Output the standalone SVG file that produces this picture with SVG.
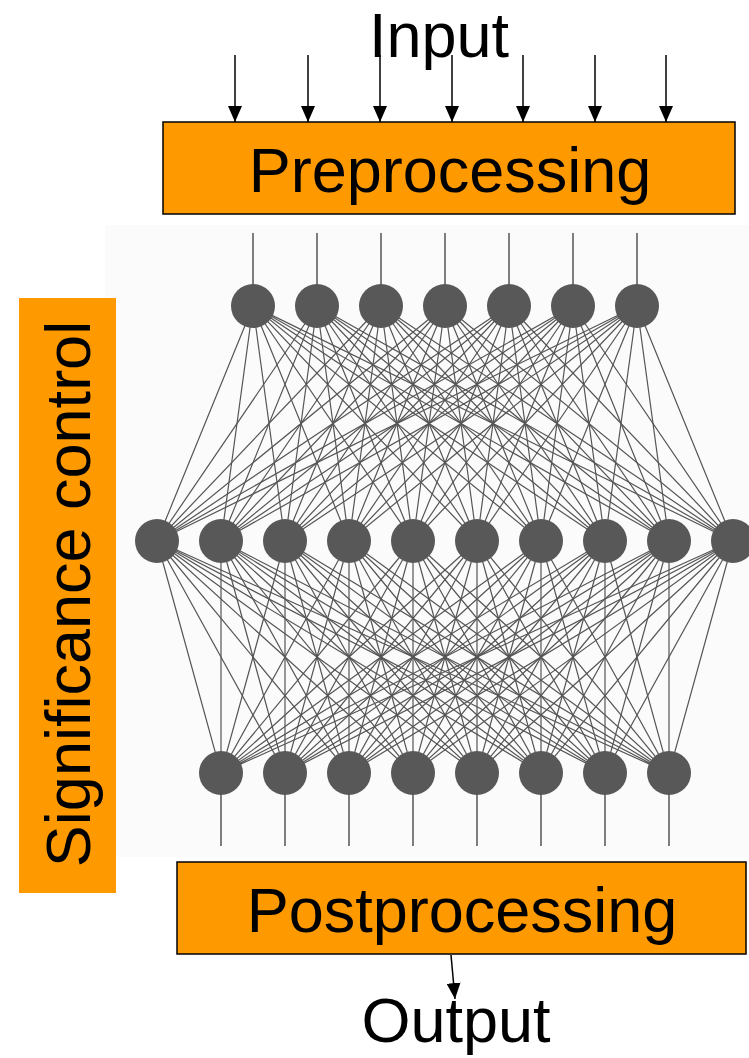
<svg xmlns="http://www.w3.org/2000/svg" width="749" height="1058" viewBox="0 0 749 1058">
  <defs>
    <marker id="arrow" viewBox="0 0 16 14" refX="16" refY="7" markerWidth="16" markerHeight="14" markerUnits="userSpaceOnUse" orient="auto">
      <path d="M0,0 L16,7 L0,14 z" fill="#000"/>
    </marker>
    <style>
      .label { font-family: "Liberation Sans", Arial, sans-serif; font-size: 63px; fill: #000; }
      .box { fill: #ff9900; stroke: #000; stroke-width: 1.5; }
      .side { fill: #ff9900; }
      .flow { stroke: #000; stroke-width: 1.5; fill: none; marker-end: url(#arrow); }
      .wire { stroke: #555; stroke-width: 1.2; fill: none; }
      .stub { stroke: #555; stroke-width: 1.5; fill: none; }
      .neuron { fill: #585858; }
    </style>
  </defs>

  <rect width="749" height="1058" fill="#fff"/>
  <!-- faint panel behind the network -->
  <rect x="105" y="225" width="644" height="632" fill="#fbfbfb"/>

  <!-- input label -->
  <g id="input">
    <text class="label" x="439" y="57" text-anchor="middle">Input</text>
  </g>

  <g id="connectors">
    <!-- input arrows into preprocessing -->
    <line class="flow" x1="235" y1="55" x2="235" y2="122"/>
    <line class="flow" x1="308" y1="55" x2="308" y2="122"/>
    <line class="flow" x1="380" y1="55" x2="380" y2="122"/>
    <line class="flow" x1="452" y1="55" x2="452" y2="122"/>
    <line class="flow" x1="523" y1="55" x2="523" y2="122"/>
    <line class="flow" x1="595" y1="55" x2="595" y2="122"/>
    <line class="flow" x1="666" y1="55" x2="666" y2="122"/>

    <!-- stubs into the first layer -->
    <path class="stub" d="M253,233V300M317,233V300M381,233V300M445,233V300M509,233V300M573,233V300M637,233V300"/>

    <!-- first layer to hidden layer -->
    <path class="wire" d="M253,306L157,541M253,306L221,541M253,306L285,541M253,306L349,541M253,306L413,541M253,306L477,541M253,306L541,541M253,306L605,541M253,306L669,541M253,306L733,541"/>
    <path class="wire" d="M317,306L157,541M317,306L221,541M317,306L285,541M317,306L349,541M317,306L413,541M317,306L477,541M317,306L541,541M317,306L605,541M317,306L669,541M317,306L733,541"/>
    <path class="wire" d="M381,306L157,541M381,306L221,541M381,306L285,541M381,306L349,541M381,306L413,541M381,306L477,541M381,306L541,541M381,306L605,541M381,306L669,541M381,306L733,541"/>
    <path class="wire" d="M445,306L157,541M445,306L221,541M445,306L285,541M445,306L349,541M445,306L413,541M445,306L477,541M445,306L541,541M445,306L605,541M445,306L669,541M445,306L733,541"/>
    <path class="wire" d="M509,306L157,541M509,306L221,541M509,306L285,541M509,306L349,541M509,306L413,541M509,306L477,541M509,306L541,541M509,306L605,541M509,306L669,541M509,306L733,541"/>
    <path class="wire" d="M573,306L157,541M573,306L221,541M573,306L285,541M573,306L349,541M573,306L413,541M573,306L477,541M573,306L541,541M573,306L605,541M573,306L669,541M573,306L733,541"/>
    <path class="wire" d="M637,306L157,541M637,306L221,541M637,306L285,541M637,306L349,541M637,306L413,541M637,306L477,541M637,306L541,541M637,306L605,541M637,306L669,541M637,306L733,541"/>

    <!-- hidden layer to output layer -->
    <path class="wire" d="M221,773L157,541M221,773L221,541M221,773L285,541M221,773L349,541M221,773L413,541M221,773L477,541M221,773L541,541M221,773L605,541M221,773L669,541M221,773L733,541"/>
    <path class="wire" d="M285,773L157,541M285,773L221,541M285,773L285,541M285,773L349,541M285,773L413,541M285,773L477,541M285,773L541,541M285,773L605,541M285,773L669,541M285,773L733,541"/>
    <path class="wire" d="M349,773L157,541M349,773L221,541M349,773L285,541M349,773L349,541M349,773L413,541M349,773L477,541M349,773L541,541M349,773L605,541M349,773L669,541M349,773L733,541"/>
    <path class="wire" d="M413,773L157,541M413,773L221,541M413,773L285,541M413,773L349,541M413,773L413,541M413,773L477,541M413,773L541,541M413,773L605,541M413,773L669,541M413,773L733,541"/>
    <path class="wire" d="M477,773L157,541M477,773L221,541M477,773L285,541M477,773L349,541M477,773L413,541M477,773L477,541M477,773L541,541M477,773L605,541M477,773L669,541M477,773L733,541"/>
    <path class="wire" d="M541,773L157,541M541,773L221,541M541,773L285,541M541,773L349,541M541,773L413,541M541,773L477,541M541,773L541,541M541,773L605,541M541,773L669,541M541,773L733,541"/>
    <path class="wire" d="M605,773L157,541M605,773L221,541M605,773L285,541M605,773L349,541M605,773L413,541M605,773L477,541M605,773L541,541M605,773L605,541M605,773L669,541M605,773L733,541"/>
    <path class="wire" d="M669,773L157,541M669,773L221,541M669,773L285,541M669,773L349,541M669,773L413,541M669,773L477,541M669,773L541,541M669,773L605,541M669,773L669,541M669,773L733,541"/>

    <!-- stubs out of the last layer -->
    <path class="stub" d="M221,780V846M285,780V846M349,780V846M413,780V846M477,780V846M541,780V846M605,780V846M669,780V846"/>

    <!-- output arrow -->
    <line class="flow" x1="451" y1="955" x2="455" y2="999"/>
  </g>

  <!-- preprocessing block -->
  <g id="preprocessing">
    <rect class="box" x="163" y="122" width="572" height="92"/>
    <text class="label" x="450" y="192" text-anchor="middle">Preprocessing</text>
  </g>

  <!-- network layers -->
  <g id="layer-in">
    <ellipse class="neuron" cx="253" cy="306" rx="22" ry="22"/>
    <ellipse class="neuron" cx="317" cy="306" rx="22" ry="22"/>
    <ellipse class="neuron" cx="381" cy="306" rx="22" ry="22"/>
    <ellipse class="neuron" cx="445" cy="306" rx="22" ry="22"/>
    <ellipse class="neuron" cx="509" cy="306" rx="22" ry="22"/>
    <ellipse class="neuron" cx="573" cy="306" rx="22" ry="22"/>
    <ellipse class="neuron" cx="637" cy="306" rx="22" ry="22"/>
  </g>
  <g id="layer-hidden">
    <ellipse class="neuron" cx="157" cy="541" rx="22" ry="22"/>
    <ellipse class="neuron" cx="221" cy="541" rx="22" ry="22"/>
    <ellipse class="neuron" cx="285" cy="541" rx="22" ry="22"/>
    <ellipse class="neuron" cx="349" cy="541" rx="22" ry="22"/>
    <ellipse class="neuron" cx="413" cy="541" rx="22" ry="22"/>
    <ellipse class="neuron" cx="477" cy="541" rx="22" ry="22"/>
    <ellipse class="neuron" cx="541" cy="541" rx="22" ry="22"/>
    <ellipse class="neuron" cx="605" cy="541" rx="22" ry="22"/>
    <ellipse class="neuron" cx="669" cy="541" rx="22" ry="22"/>
    <ellipse class="neuron" cx="733" cy="541" rx="22" ry="22"/>
  </g>
  <g id="layer-out">
    <ellipse class="neuron" cx="221" cy="773" rx="22" ry="22"/>
    <ellipse class="neuron" cx="285" cy="773" rx="22" ry="22"/>
    <ellipse class="neuron" cx="349" cy="773" rx="22" ry="22"/>
    <ellipse class="neuron" cx="413" cy="773" rx="22" ry="22"/>
    <ellipse class="neuron" cx="477" cy="773" rx="22" ry="22"/>
    <ellipse class="neuron" cx="541" cy="773" rx="22" ry="22"/>
    <ellipse class="neuron" cx="605" cy="773" rx="22" ry="22"/>
    <ellipse class="neuron" cx="669" cy="773" rx="22" ry="22"/>
  </g>

  <!-- side bar -->
  <g id="significance-control">
    <rect class="side" x="19" y="298" width="97" height="595"/>
    <text class="label" transform="translate(90,594) rotate(-90)" text-anchor="middle">Significance control</text>
  </g>

  <!-- postprocessing block -->
  <g id="postprocessing">
    <rect class="box" x="177" y="862" width="569" height="92"/>
    <text class="label" x="462" y="932" text-anchor="middle">Postprocessing</text>
  </g>

  <g id="output">
    <text class="label" x="456" y="1042" text-anchor="middle">Output</text>
  </g>
</svg>
